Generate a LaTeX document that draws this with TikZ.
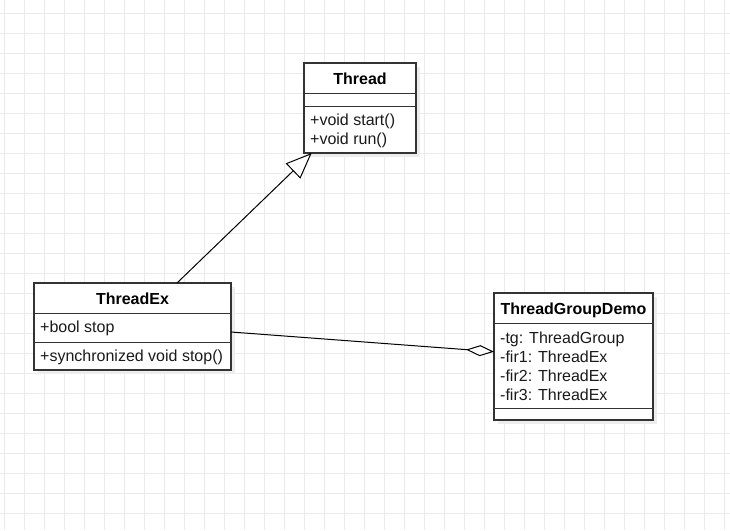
\documentclass[tikz,border=0pt]{standalone}
\usepackage{fontspec}
\setmainfont{Liberation Sans}
\usetikzlibrary{arrows.meta,shadows}
\definecolor{gridc}{HTML}{EBEBEB}
\definecolor{edgec}{HTML}{333333}
\definecolor{shadec}{HTML}{EDEDED}
\definecolor{txtc}{HTML}{1A1A1A}
\begin{document}
\begin{tikzpicture}[x=1pt,y=-1pt,
  classbox/.style={draw=edgec,fill=white,line width=1.3pt,inner sep=0pt,outer sep=0pt,
    anchor=north west,rectangle,
    drop shadow={shadow xshift=4pt,shadow yshift=-4pt,fill=shadec,opacity=1}},
  hdr/.style={anchor=base,inner sep=0pt,font=\fontsize{16}{19}\selectfont\bfseries,text=black},
  mem/.style={anchor=base west,inner sep=0pt,font=\fontsize{16}{19}\selectfont,text=txtc},
  divider/.style={draw=edgec,line width=1.3pt},
  conn/.style={draw=black,line width=1pt}]
\useasboundingbox (0,0) rectangle (730,530);
\fill[white] (0,0) rectangle (730,530);
\foreach \x in {4,24,...,724} \draw[gridc,line width=1pt] (\x,0) -- (\x,530);
\foreach \y in {13,33,...,513} \draw[gridc,line width=1pt] (0,\y) -- (730,\y);

% Thread
\node[classbox,minimum width=112pt,minimum height=90pt] (th) at (304,63) {};
\draw[divider] (th.west |- 0,93.3) -- (th.east |- 0,93.3);
\draw[divider] (th.west |- 0,106.7) -- (th.east |- 0,106.7);
\node[hdr] (thn) at (360,84.3) {Thread};
\node[mem] (th1) at (310,125.5) {+void start()};
\node[mem] (th2) at (310,144.5) {+void run()};

% ThreadEx
\node[classbox,minimum width=197pt,minimum height=87pt] (tx) at (34,283) {};
\draw[divider] (tx.west |- 0,313.3) -- (tx.east |- 0,313.3);
\draw[divider] (tx.west |- 0,342.7) -- (tx.east |- 0,342.7);
\node[hdr] (txn) at (132.5,304.3) {ThreadEx};
\node[mem] (tx1) at (40,332.7) {+bool stop};
\node[mem] (tx2) at (40,361.7) {+synchronized void stop()};

% ThreadGroupDemo
\node[classbox,minimum width=159pt,minimum height=127pt] (tg) at (494,293) {};
\draw[divider] (tg.west |- 0,323.3) -- (tg.east |- 0,323.3);
\draw[divider] (tg.west |- 0,408.3) -- (tg.east |- 0,408.3);
\node[hdr] (tgn) at (573.5,314.3) {ThreadGroupDemo};
\node[mem] (tg1) at (500,343.5) {-tg: ThreadGroup};
\node[mem] (tg2) at (500,362.5) {-fir1: ThreadEx};
\node[mem] (tg3) at (500,381.5) {-fir2: ThreadEx};
\node[mem] (tg4) at (500,400.5) {-fir3: ThreadEx};

% connectors
\draw[conn,-{Triangle[open,length=26pt,width=21pt,fill=white]}]
  ([xshift=44.5pt]tx.north) -- ([xshift=-48.3pt]th.south);
\draw[conn,-{Diamond[open,length=28pt,width=11pt,fill=white]}]
  ([yshift=-5.5pt]tx.east) -- ([yshift=4.8pt]tg.west);
\end{tikzpicture}
\end{document}
